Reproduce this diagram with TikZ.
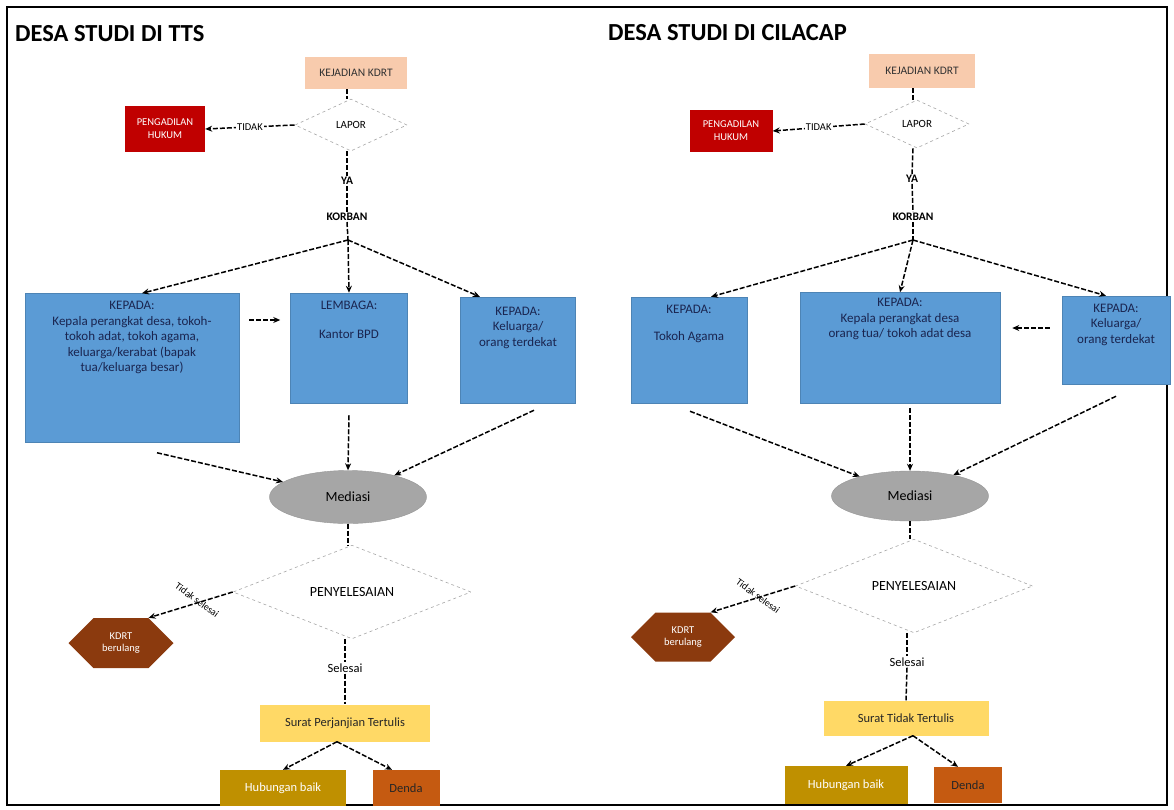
\documentclass[tikz,border=0pt]{standalone}
\usepackage{fontspec}
\setmainfont{Carlito}
\usetikzlibrary{shapes.geometric,shapes.symbols,arrows.meta,calc}
\definecolor{boxblue}{HTML}{5B9BD5}
\definecolor{navytxt}{HTML}{1A2550}
\definecolor{peach}{HTML}{F8CBAD}
\definecolor{redbox}{HTML}{C00000}
\definecolor{medgray}{HTML}{A6A6A6}
\definecolor{hexbrown}{HTML}{8B3A0E}
\definecolor{yelbox}{HTML}{FFD966}
\definecolor{olivebox}{HTML}{BF9000}
\definecolor{orgbox}{HTML}{C55A11}
\tikzset{
  conn/.style={draw=black, line width=1.5pt, dash pattern=on 5pt off 2pt},
  arr/.style={conn, -{Stealth[length=7pt,width=6pt]}},
  title/.style={font=\bfseries\fontsize{24.5}{26}\selectfont, anchor=west, inner sep=0pt},
  lbl/.style={font=\fontsize{10.5}{12}\selectfont, inner sep=1pt, fill=white},
  flow/.style={font=\bfseries\fontsize{11.5}{13}\selectfont, inner sep=1pt},
  bluebox/.style={rectangle, fill=boxblue, draw=boxblue!85!black, line width=0.5pt},
  btxt/.style={font=\fontsize{13}{15.5}\selectfont, text=navytxt, align=center, inner sep=0pt, anchor=north},
  peachbox/.style={rectangle, fill=peach, font=\fontsize{11.5}{13}\selectfont, text=black!80, inner sep=1pt},
  redbx/.style={rectangle, fill=redbox, font=\fontsize{10.5}{13}\selectfont, text=white, align=center, inner sep=1pt},
  dia/.style={diamond, draw=black!35, dashed, fill=white, line width=0.6pt, inner sep=0pt, font=\fontsize{11}{13}\selectfont},
  med/.style={ellipse, fill=medgray, draw=medgray!90!black, line width=0.4pt, font=\fontsize{14}{16}\selectfont},
  hexa/.style={signal, signal to=east and west, fill=hexbrown, text=white, align=center, font=\fontsize{10.5}{12.5}\selectfont, inner sep=1pt},
  yel/.style={rectangle, fill=yelbox, font=\fontsize{12.5}{14}\selectfont, text=black!85},
  oliv/.style={rectangle, fill=olivebox, font=\fontsize{12.5}{14}\selectfont, text=white, inner sep=1pt},
  orgb/.style={rectangle, fill=orgbox, font=\fontsize{12.5}{14}\selectfont, text=black!85},
}
\begin{document}
\begin{tikzpicture}[x=1pt,y=-1pt]
\useasboundingbox (0,0) rectangle (1174,809);
\fill[white] (0,0) rectangle (1174,809);
\draw[line width=1.6pt] (7,7) rectangle (1167,805);

% ================= LEFT: TTS =================
\node[title] (titleL) at (15,34) {DESA STUDI DI TTS};
\node[peachbox, minimum width=102, minimum height=32] (kjL) at (356,73) {KEJADIAN KDRT};
\node[dia, minimum width=112, minimum height=52] (lapL) at (351,125) {LAPOR};
\node[redbx, minimum width=80, minimum height=46] (redL) at (165,129) {PENGADILAN\\HUKUM};
\node[flow] (yaL) at (347,181) {YA};
\node[flow] (korL) at (347,217) {KORBAN};
\coordinate (apexL) at (348,240);

\node[bluebox, minimum width=214, minimum height=149] (b1L) at (132,368) {};
\node[btxt] (t1L) at ($(b1L.north)+(0,8)$) {KEPADA:\\Kepala perangkat desa, tokoh-\\tokoh adat, tokoh agama,\\keluarga/kerabat (bapak\\tua/keluarga besar)};
\node[bluebox, minimum width=117, minimum height=110] (b2L) at (349,348) {};
\node[btxt] (t2L) at ($(b2L.north)+(0,8)$) {LEMBAGA:\\[14pt]Kantor BPD};
\node[bluebox, minimum width=115, minimum height=106] (b3L) at (518,350) {};
\node[btxt] (t3L) at ($(b3L.north)+(0,10)$) {KEPADA:\\Keluarga/\\orang terdekat};

\node[med, minimum width=157, minimum height=53] (medL) at (348,497) {Mediasi};
\node[dia, minimum width=238, minimum height=60, font=\fontsize{14}{16}\selectfont] (penL) at (352,592) {PENYELESAIAN};
\node[hexa, minimum width=105, minimum height=50] (hexL) at (121,643) {KDRT\\berulang};
\node[font=\fontsize{12.5}{14}\selectfont, inner sep=1pt] (selL) at (345,668) {Selesai};
\node[yel, minimum width=170, minimum height=37] (yelL) at (345,723) {Surat Perjanjian Tertulis};
\node[oliv, minimum width=126, minimum height=36] (botL1) at (283,788) {Hubungan baik};
\node[orgb, minimum width=67, minimum height=36] (botL2) at (406,788) {Denda};

\draw[conn] (kjL.south -| korL.north) -- (lapL.north -| korL.north);
\draw[arr] (lapL.west) -- node[lbl] (tdkL) {TIDAK} (redL.east);
\draw[conn] (lapL.south -| korL.north) -- (yaL.north);
\draw[conn] (yaL.south) -- (korL.north);
\draw[conn] (korL.south) -- (apexL);
\draw[arr] (apexL) -- ($(b1L.north)+(10,0)$);
\draw[arr] (apexL) -- (b2L.north);
\draw[arr] (apexL) -- ($(b3L.north west)!0.17!(b3L.north east)$);
\coordinate (sL) at (0,320);
\draw[arr, shorten <=10pt, shorten >=10pt] (b1L.east |- sL) -- (b2L.west |- sL);
\draw[arr] ($(b1L.south)+(25,10)$) -- (medL);
\draw[arr] ($(b2L.south)+(0,12)$) -- (medL.north);
\draw[arr] ($(b3L.south)+(16,7)$) -- (medL);
\draw[conn] (medL.south) -- (medL.south |- penL.north);
\draw[arr] (penL.west) -- (hexL.north east);
\node[font=\fontsize{10}{12}\selectfont, rotate=-36, inner sep=0pt] (tsL) at (197,600) {Tidak selesai};
\draw[conn] (selL.north |- penL.south) -- (selL.north);
\draw[conn] (selL.south) -- (yelL.north);
\draw[arr] ($(yelL.south)+(-8,0)$) -- (botL1.north);
\draw[arr] ($(yelL.south)+(-8,0)$) -- ($(botL2.north)+(-14,0)$);

% ================= RIGHT: CILACAP =================
\node[title] (titleR) at (608,33) {DESA STUDI DI CILACAP};
\node[peachbox, minimum width=106, minimum height=34] (kjR) at (922,71) {KEJADIAN KDRT};
\node[dia, minimum width=104, minimum height=48] (lapR) at (917,124) {LAPOR};
\node[redbx, minimum width=83, minimum height=42] (redR) at (731,131) {PENGADILAN\\HUKUM};
\node[flow] (yaR) at (912,179) {YA};
\node[flow] (korR) at (913,217) {KORBAN};
\coordinate (apexR) at (913,240);

\node[bluebox, minimum width=116, minimum height=106] (b1R) at (689,350) {};
\node[btxt] (t1R) at ($(b1R.north)+(0,8)$) {KEPADA:\\[12pt]Tokoh Agama};
\node[bluebox, minimum width=200, minimum height=111] (b2R) at (900,348) {};
\node[btxt] (t2R) at ($(b2R.north)+(0,6)$) {KEPADA:\\Kepala perangkat desa\\orang tua/ tokoh adat desa};
\node[bluebox, minimum width=108, minimum height=88] (b3R) at (1116,340) {};
\node[btxt] (t3R) at ($(b3R.north)+(0,8)$) {KEPADA:\\Keluarga/\\orang terdekat};

\node[med, minimum width=157, minimum height=50] (medR) at (910,496) {Mediasi};
\node[dia, minimum width=237, minimum height=62, font=\fontsize{14}{16}\selectfont] (penR) at (914,586) {PENYELESAIAN};
\node[hexa, minimum width=104, minimum height=49] (hexR) at (683,637) {KDRT\\berulang};
\node[font=\fontsize{12.5}{14}\selectfont, inner sep=1pt] (selR) at (907,662) {Selesai};
\node[yel, minimum width=165, minimum height=35] (yelR) at (906,718) {Surat Tidak Tertulis};
\node[oliv, minimum width=123, minimum height=38] (botR1) at (846,785) {Hubungan baik};
\node[orgb, minimum width=68, minimum height=36] (botR2) at (968,785) {Denda};

\draw[conn] (kjR.south -| korR.north) -- (lapR.north -| korR.north);
\draw[arr] (lapR.west) -- node[lbl] (tdkR) {TIDAK} (redR.east);
\draw[conn] (lapR.south -| korR.north) -- (yaR.north);
\draw[conn] (yaR.south) -- (korR.north);
\draw[conn] (korR.south) -- (apexR);
\draw[arr] (apexR) -- ($(b1R.north)+(22,0)$);
\draw[arr] (apexR) -- (b2R.north);
\draw[arr] (apexR) -- ($(b3R.north)+(-10,0)$);
\coordinate (sR) at (0,328);
\draw[arr, shorten <=12pt, shorten >=12pt] (b3R.west |- sR) -- (b2R.east |- sR);
\draw[arr] ($(b1R.south)+(1,8)$) -- (medR);
\draw[arr] ($(b2R.south)+(10,4)$) -- (medR.north);
\draw[arr] ($(b3R.south)+(0,12)$) -- (medR);
\draw[conn] (medR.south) -- (medR.south |- penR.north);
\draw[arr] (penR.west) -- (hexR.north east);
\node[font=\fontsize{10}{12}\selectfont, rotate=-36, inner sep=0pt] (tsR) at (758,596) {Tidak selesai};
\draw[conn] (selR.north |- penR.south) -- (selR.north);
\draw[conn] (selR.south) -- (yelR.north);
\draw[arr] ($(yelR.south)+(7,0)$) -- (botR1.north);
\draw[arr] ($(yelR.south)+(7,0)$) -- ($(botR2.north)+(-10,0)$);
\end{tikzpicture}
\end{document}
